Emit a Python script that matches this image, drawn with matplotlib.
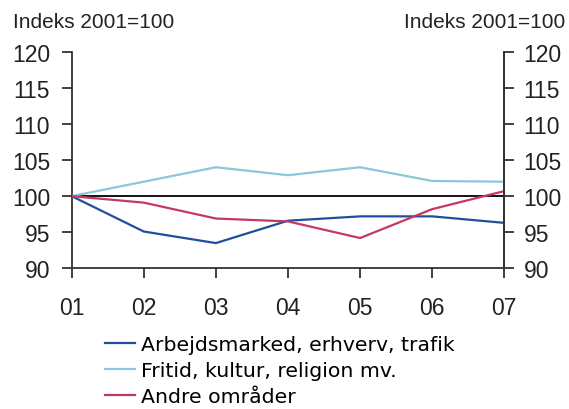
import matplotlib
matplotlib.use('Agg')
import matplotlib.pyplot as plt

plt.rcParams['font.family'] = ['Liberation Sans', 'DejaVu Sans']

years = ['01', '02', '03', '04', '05', '06', '07']
arbejd = [100, 95.1, 93.5, 96.6, 97.2, 97.2, 96.3]
fritid = [100, 102.0, 104.0, 102.9, 104.0, 102.1, 102.0]
andre = [100, 99.1, 96.9, 96.5, 94.2, 98.2, 100.7]
labels = ['Arbejdsmarked, erhverv, trafik', 'Fritid, kultur, religion mv.', 'Andre områder']
colors = ['#1f4f9c', '#8cc6dc', '#c23a5e']

fig = plt.figure(figsize=(5.69, 4.10), dpi=100)
ax = fig.add_axes([0.126, 0.343, 0.7603, 0.5285])

x = list(range(len(years)))
for vals, lab, c in zip([arbejd, fritid, andre], labels, colors):
    ax.plot(x, vals, color=c, lw=1.6, label=lab, zorder=3)
ax.axhline(100, color='black', lw=1.3, zorder=2)

ax.set_xlim(0, len(years) - 1)
ax.set_ylim(90, 120)
ax.set_yticks(range(90, 121, 5))
ax.set_xticks(x)
ax.set_xticklabels(years)
ax.spines['top'].set_visible(False)
for s in ['left', 'right', 'bottom']:
    ax.spines[s].set_linewidth(1.3)
    ax.spines[s].set_color('#333333')
ax.tick_params(axis='both', direction='out', length=7, width=1.3, colors='#333333',
               labelsize=16.5, labelcolor='#222222')
ax.tick_params(axis='y', pad=8.5)
ax.tick_params(axis='x', pad=13)

ax2 = ax.twinx()
ax2.set_ylim(90, 120)
ax2.set_yticks(range(90, 121, 5))
for s in ['top', 'left', 'bottom']:
    ax2.spines[s].set_visible(False)
ax2.spines['right'].set_linewidth(1.3)
ax2.spines['right'].set_color('#333333')
ax2.tick_params(axis='y', direction='out', length=7, width=1.3, colors='#333333',
                labelsize=16.5, labelcolor='#222222', pad=7)

fig.text(0.022, 0.944, 'Indeks 2001=100', fontsize=15, color='#222222', ha='left', va='center')
fig.text(0.993, 0.944, 'Indeks 2001=100', fontsize=15, color='#222222', ha='right', va='center')

leg = ax.legend(loc='upper left', bbox_to_anchor=(0.1845, 0.18), bbox_transform=fig.transFigure,
                frameon=False, prop={'family': 'DejaVu Sans', 'size': 14.7}, handlelength=1.45,
                handletextpad=0.3, labelspacing=0.34, borderaxespad=0, borderpad=0)

fig.savefig('out.png', dpi=100)
